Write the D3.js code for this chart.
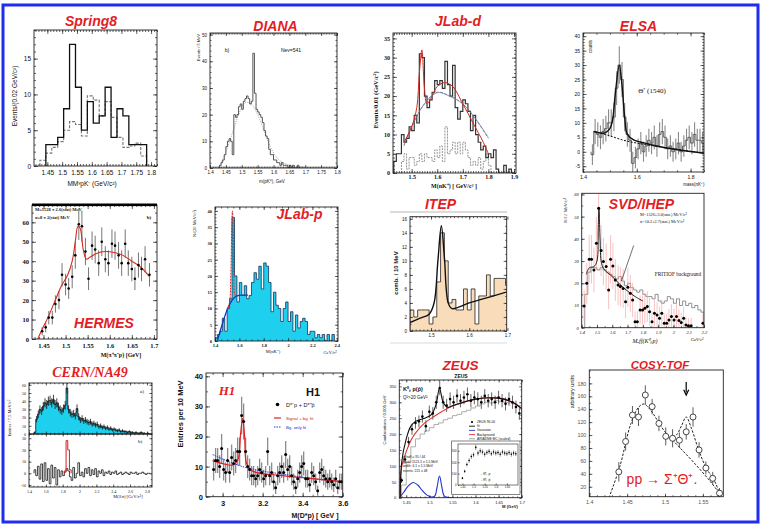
<!DOCTYPE html>
<html>
<head>
<meta charset="utf-8">
<script src="https://cdn.jsdelivr.net/npm/d3@7"></script>
<style>
  body { margin: 0; background: #fff; }
  svg { display: block; }
</style>
</head>
<body>
<svg width="761" height="526"></svg>
<script>
// ---------- data ----------
// Spring8 (bins of 0.02)
const spring8Start = 1.445;
const spring8Solid = [3, 3, 4, 8, 17, 11, 5, 9, 6, 7, 11, 4, 8, 7, 3, 3, 3];
const spring8DashStart = 1.425;
const spring8Dashed = [0.8, 1.8, 2.6, 3.4, 5, 6.2, 5.8, 4.2, 9.8, 9.2, 7, 9, 6.8, 4, 2.6, 2.8, 3.2, 1.4];

// DIANA (bins of 0.005)
const dianaStart = 1.43;
const dianaCounts = [1, 2, 3, 5, 8, 10, 11, 10, 5, 20, 19, 20, 23, 24, 22, 25, 26, 27, 26, 24, 25, 43, 28, 22, 21, 20,
  19, 17, 14, 12, 11, 7, 5, 5, 3, 3, 2, 2, 1, 2, 1, 1, 1, 0, 1, 0, 1, 0, 0, 1, 0];
const dianaBg = [[1.43, 1], [1.45, 6], [1.47, 13], [1.49, 20], [1.51, 24.5], [1.53, 24], [1.55, 20], [1.57, 14],
  [1.59, 8], [1.61, 4], [1.63, 2], [1.66, 0.8], [1.7, 0.3]];

// JLab-d (bins of 0.01)
const jlabdStart = 1.43;
const jlabdCounts = [3, 5, 5, 10, 8, 9, 12, 11, 15, 13, 31, 30, 20, 17, 19, 21, 24, 23, 24, 22, 29, 23, 20, 28, 17, 14,
  16, 19, 18, 16, 11, 15, 10, 8, 6, 7, 4, 5, 4, 6, 1, 0, 0, 2, 0, 1, 0];
const jlabdDashStart = 1.46;
const jlabdDashed = [3, 5, 1, 4, 4, 2, 3, 5, 3, 5, 4, 4, 3, 6, 4, 7, 3, 12, 5, 6, 8, 5, 8, 5, 8, 6, 4, 2, 3, 2, 4, 1, 3, 5, 2, 0];
const jlabdFit = [[1.47, 8], [1.5, 12], [1.52, 17], [1.53, 26], [1.54, 32], [1.55, 22], [1.56, 18], [1.58, 20],
  [1.6, 22.5], [1.63, 23.5], [1.66, 22.5], [1.7, 18], [1.74, 13], [1.78, 8], [1.8, 5]];
const jlabdBg = [[1.47, 7], [1.5, 12], [1.55, 18], [1.6, 21], [1.65, 20], [1.7, 18], [1.75, 14], [1.8, 9]];

// ELSA (bins of 0.01)
const elsaStart = 1.43;
const elsaCounts = [-1, 7, 6, 5, 7, 8, 10, 10, 12, 22, 30, 25, 12, 6, 4, -4, -2, 1, 3, 0, 2, 4, 3, 5, 2, 6, 7, 5, 1, 2,
  0, 1, 3, 0, 2, 4, 5, 3, 6, 4, 4, 3];
const elsaFit = [[1.44, 7], [1.48, 6.5], [1.5, 8], [1.51, 11], [1.52, 20], [1.535, 30], [1.545, 23], [1.555, 12],
  [1.565, 6], [1.59, 4], [1.63, 3], [1.7, 1.5], [1.85, -0.5]];
const elsaBg = [[1.44, 7], [1.5, 5.5], [1.55, 4], [1.6, 3], [1.7, 1.5], [1.85, -0.5]];

// HERMES
const hermesMass = [1.447, 1.455, 1.462, 1.470, 1.477, 1.485, 1.492, 1.500, 1.507, 1.515, 1.522, 1.530, 1.537, 1.545,
  1.552, 1.560, 1.567, 1.575, 1.582, 1.590, 1.597, 1.605, 1.612, 1.620, 1.627, 1.635, 1.642, 1.650, 1.657, 1.665,
  1.672, 1.680, 1.690];
const hermesCounts = [4, 6, 11, 11, 18, 20, 33, 28, 26, 32, 43, 59, 58, 45, 31, 48, 46, 39, 50, 41, 39, 49, 48, 43, 39,
  49, 39, 36, 31, 38, 36, 41, 33];
const hermesFit = [[1.437, 0], [1.447, 5], [1.46, 11], [1.475, 19], [1.49, 27], [1.505, 33], [1.515, 40], [1.522, 50],
  [1.528, 58], [1.533, 57], [1.54, 46], [1.547, 41], [1.555, 42], [1.57, 44], [1.59, 45], [1.61, 44.5], [1.63, 43],
  [1.65, 40], [1.67, 37], [1.69, 32]];

// JLab-p (bins of 0.02)
const jlabpStart = 1.40;
const jlabpCounts = [1, 2, 3, 7, 3, 10, 13, 38, 20, 12, 18, 14, 17, 13, 14, 18, 21, 19, 23, 16, 24, 23, 18, 9, 15, 11,
  10, 6, 10, 12, 6, 9, 3, 8, 4, 6, 7, 6, 2, 3, 3, 1, 2, 1, 2, 0, 2, 0, 2];
const jlabpBg = [[1.42, 0.2], [1.45, 4], [1.48, 7.5], [1.51, 10.5], [1.54, 12.5], [1.57, 13.7], [1.62, 14.1], [1.67, 14.1]];
const jlabpFit = [[1.5, 9.5], [1.52, 12], [1.53, 20], [1.538, 36], [1.543, 40], [1.548, 36], [1.555, 20], [1.565, 14], [1.58, 13.8]];

// ITEP (bins of 0.01)
const itepStart = 1.445;
const itepCounts = [3, 2, 3, 3, 3, 1, 2, 7, 14, 10, 4, 4.5, 3, 3, 6, 3, 6, 1, 5, 5, 8, 5, 7.5, 7.5, 7.5, 6.5];
const itepFit = [[1.445, 1.2], [1.47, 1.8], [1.495, 2.4], [1.508, 4], [1.518, 10], [1.527, 15], [1.535, 10.5],
  [1.545, 4], [1.555, 3.2], [1.6, 4], [1.65, 4.8], [1.7, 5.6]];

// SVD/IHEP
const svdMass = [1.416, 1.433, 1.449, 1.464, 1.48, 1.496, 1.511, 1.527, 1.542, 1.56, 1.576, 1.589, 1.604, 1.62, 1.638,
  1.653, 1.671, 1.687, 1.702, 1.718, 1.733, 1.749, 1.764, 1.782, 1.798, 1.813, 1.829, 1.844, 1.86, 1.876, 1.893, 1.909,
  1.924, 1.94, 1.956, 1.971, 1.987, 2.004, 2.02, 2.036, 2.051, 2.067, 2.082, 2.098, 2.116, 2.193];
const svdCounts = [9.8, 20, 30.8, 30.8, 26, 38, 53.8, 34.7, 29.8, 27.5, 17, 30.8, 27.8, 21.5, 19.2, 18.5, 17.7, 11.7,
  18.2, 15.5, 12.5, 2.7, 2.7, 8, 8, 8.7, 9.5, 7.2, 2.7, 6.5, 5.7, 4.2, 6.5, 2, 2, 3.5, 5, 3.5, 5, 3.2, 2.3, 4.2, 1.2,
  0.9, 0.9, 2];
const svdBgStart = 1.42;
const svdFritiof = [15, 25, 27, 27, 26, 27, 26, 25, 24, 23, 22, 23, 21, 19, 20, 18, 17, 16, 17, 15, 14, 14, 13, 15, 12,
  11, 12, 14, 13, 11, 13, 10, 12, 10, 11, 9, 10, 8, 7];
const svdFit = [[1.43, 24], [1.45, 27], [1.48, 27.5], [1.5, 30], [1.508, 45], [1.513, 54], [1.52, 40], [1.53, 29],
  [1.55, 26], [1.6, 23], [1.65, 19.5], [1.7, 16.5], [1.75, 14], [1.8, 12]];

// CERN/NA49 (bins of 0.02)
const na49Start = 1.46;
const na49Upper = [2, 18, 24, 30, 28, 34, 38, 36, 40, 41, 38, 42, 36, 38, 33, 30, 28, 31, 35, 56, 30, 26, 24, 25, 22,
  31, 21, 17, 19, 16, 17, 15, 14, 15, 12, 13, 11, 12, 9, 10, 8, 9, 7, 8, 6, 7, 5, 6, 5, 4, 5, 3, 4, 3, 3, 2, 3, 2, 2,
  1, 2, 1, 1, 2, 1, 1, 0, 1, 0];
const na49Lower = [3, -2, 6, -5, 8, -7, 9, -6, 4, -9, 7, -4, 5, -10, 3, -3, 2, -2, 1, 4, 2, -3, -6, 5, -4, 0, 9, -2, 1,
  -3, 4, 0, 5, -2, 3, -1, 4, -3, 2, 0, 3, -2, 1, 0, 2, -1, 1, 0, 2, -1, 0, 1, -1, 0, 1, 0, -1, 1, 0, 0, 1, -1, 0, 0,
  1, 0, -1, 0, 0];
const na49SignalStart = 1.82;
const na49Signal = [2, 28, 20, 3];

// H1 (bins of 0.01)
const h1Start = 2.95;
const h1Counts = [9, 12, 12, 10, 16, 9, 8, 12, 8, 13, 11, 12, 15, 15, 27, 25, 15, 10, 9, 7, 7, 6, 7, 9, 8, 6, 7, 15, 7,
  8, 5, 3, 7, 8, 10, 8, 14, 9, 10, 7, 5, 3, 6, 8, 10, 11, 6, 6, 4, 8, 7, 5, 2, 8, 9, 7, 6, 5, 6, 5, 4, 6, 3, 5, 5];
const h1Fit = [[2.95, 12], [3.0, 11], [3.05, 10.5], [3.075, 12], [3.09, 21], [3.1, 26], [3.11, 20], [3.12, 11],
  [3.15, 8.5], [3.3, 7], [3.45, 6], [3.6, 5]];
const h1Bg = [[2.95, 14], [3.0, 12.5], [3.1, 10], [3.2, 8.5], [3.3, 7.5], [3.45, 6], [3.6, 5]];

// ZEUS
const zeusStart = 1.44;
const zeusStep = 0.0075;
const zeusCounts = [55, 120, 175, 215, 235, 240, 255, 225, 270, 265, 300, 345, 300, 290, 310, 300, 320, 305, 315, 325,
  305, 315, 310, 300, 320, 305, 310, 300, 315, 305, 295, 310, 300, 285, 265];
const zeusMCStart = 1.44;
const zeusMC = [40, 110, 160, 185, 200, 210, 220, 230, 235, 245, 250, 258, 262, 270, 275, 282, 288, 295, 300, 298, 305,
  302, 300, 298, 295, 290];
const zeusBg = [[1.437, 0], [1.44, 95], [1.45, 145], [1.46, 180], [1.47, 203], [1.49, 235], [1.51, 255], [1.55, 288],
  [1.6, 310], [1.65, 313], [1.68, 300], [1.7, 280]];
const zeusFit = [[1.437, 0], [1.44, 110], [1.45, 185], [1.46, 225], [1.47, 240], [1.49, 250], [1.505, 262],
  [1.515, 295], [1.522, 345], [1.53, 300], [1.54, 284], [1.55, 289], [1.6, 310], [1.65, 313], [1.68, 300], [1.7, 280]];
const zeusGauss = [[1.437, 3], [1.445, 18], [1.455, 38], [1.465, 48], [1.475, 40], [1.485, 22], [1.495, 8],
  [1.505, 2], [1.512, 6], [1.517, 35], [1.522, 68], [1.527, 35], [1.532, 6], [1.54, 1], [1.55, 0]];
const zeusInsetStart = 1.445;
const zeusInset = [60, 120, 180, 215, 250, 265, 330, 280, 300, 290, 270, 285, 295, 275, 290, 280, 285, 270, 290, 280,
  275, 285, 270, 280, 275];

// COSY-TOF
const cosyMass = [1.439, 1.448, 1.457, 1.465, 1.474, 1.483, 1.492, 1.501, 1.510, 1.519, 1.528, 1.537, 1.545, 1.554, 1.563, 1.572];
const cosyCounts = [43, 90, 131, 128, 162, 144, 118, 98, 95, 92, 105, 128, 77, 49, 33, 10];
const cosyErr = [15, 14, 14, 14, 15, 12, 12, 14, 14, 12, 12, 15, 12, 10, 10, 8];
const cosyBg = [[1.426, 3], [1.44, 50], [1.455, 118], [1.465, 143], [1.472, 148], [1.48, 140], [1.5, 105], [1.52, 80],
  [1.54, 55], [1.56, 28], [1.572, 10]];
const cosySig = [[1.505, 95], [1.515, 100], [1.522, 115], [1.528, 128], [1.535, 110], [1.545, 75], [1.555, 48],
  [1.565, 30], [1.572, 10]];
const cosyArrowMass = 1.528;

// ---------- drawing ----------
const svg = d3.select("svg");
const sans = "Liberation Sans, Arial, sans-serif";
const serif = "Liberation Serif, Times New Roman, serif";
const red = "#e31d25";

svg.append("rect").attr("width", 761).attr("height", 526).attr("fill", "#fff");
svg.append("rect").attr("x", 3).attr("y", 5).attr("width", 755).attr("height", 517)
  .attr("fill", "#fff").attr("stroke", "#1e2df0").attr("stroke-width", 3);

let clipN = 0;
function panel(o) {
  const [L, T, R, B] = o.box;
  const id = "clip" + clipN++;
  svg.append("clipPath").attr("id", id).append("rect")
    .attr("x", L).attr("y", T).attr("width", R - L).attr("height", B - T);
  const g = svg.append("g");
  const x = d3.scaleLinear().domain(o.xd).range([L, R]);
  const y = d3.scaleLinear().domain(o.yd).range([B, T]);
  const plot = g.append("g").attr("clip-path", `url(#${id})`);
  const tk = o.tk ?? 4;
  const style = (a) => a.attr("font-family", o.font || sans).attr("font-size", o.fs || 6)
    .attr("font-weight", o.fw || "normal").attr("font-style", o.fi ? "italic" : "normal")
    .call((s) => s.select(".domain").remove())
    .call((s) => s.selectAll("line").attr("stroke", "#222").attr("stroke-width", 0.7))
    .call((s) => s.selectAll("text").attr("fill", o.tc || "#111"));
  const ax = (axis, tx, ty) => g.append("g").attr("transform", `translate(${tx},${ty})`).call(axis).call(style);
  if (o.xm) ax(d3.axisBottom(x).tickValues(x.ticks(o.xm)).tickSize(-tk / 2).tickFormat(""), 0, B);
  if (o.ym) ax(d3.axisLeft(y).tickValues(y.ticks(o.ym)).tickSize(-tk / 2).tickFormat(""), L, 0);
  if (o.xt) ax(d3.axisBottom(x).tickValues(o.xt).tickSize(-tk).tickPadding(o.xp ?? 3)
    .tickFormat(o.noXLabels ? "" : (d) => d), 0, B);
  if (o.yt) ax(d3.axisLeft(y).tickValues(o.yt).tickSize(-tk).tickPadding(o.yp ?? 3).tickFormat((d) => d), L, 0);
  if (o.mirror) {
    if (o.xt) ax(d3.axisTop(x).tickValues(o.xt).tickSize(-tk).tickFormat(""), 0, T);
    if (o.yt) ax(d3.axisRight(y).tickValues(o.yt).tickSize(-tk).tickFormat(""), R, 0);
    if (o.xm) ax(d3.axisTop(x).tickValues(x.ticks(o.xm)).tickSize(-tk / 2).tickFormat(""), 0, T);
    if (o.ym) ax(d3.axisRight(y).tickValues(y.ticks(o.ym)).tickSize(-tk / 2).tickFormat(""), R, 0);
  }
  g.append("rect").attr("x", L).attr("y", T).attr("width", R - L).attr("height", B - T)
    .attr("fill", "none").attr("stroke", "#222").attr("stroke-width", o.sw || 0.9);
  return { g, plot, x, y };
}

function hist(p, x0, w, vals, o = {}) {
  const base = o.base ?? 0;
  const end = x0 + vals.length * w;
  const pts = [[x0, base], ...vals.map((v, i) => [x0 + i * w, v]), [end, vals[vals.length - 1]], [end, base]];
  if (o.fill) {
    p.plot.append("path")
      .attr("d", d3.area().curve(d3.curveStepAfter).x((d) => p.x(d[0])).y0(p.y(base)).y1((d) => p.y(d[1]))(pts))
      .attr("fill", o.fill);
  }
  p.plot.append("path")
    .attr("d", d3.line().curve(d3.curveStepAfter).x((d) => p.x(d[0])).y((d) => p.y(d[1]))(pts))
    .attr("fill", "none").attr("stroke", o.stroke || "#000").attr("stroke-width", o.sw || 1)
    .attr("stroke-dasharray", o.dash || null);
}

function bars(p, xs, ys, err, o = {}) {
  p.plot.append("g").selectAll("line").data(xs).join("line")
    .attr("x1", (d) => p.x(d)).attr("x2", (d) => p.x(d))
    .attr("y1", (d, i) => p.y(ys[i] - (Array.isArray(err) ? err[i] : err(ys[i]))))
    .attr("y2", (d, i) => p.y(ys[i] + (Array.isArray(err) ? err[i] : err(ys[i]))))
    .attr("stroke", o.color || "#000").attr("stroke-width", o.w || 0.8);
}

function dots(p, xs, ys, o = {}) {
  p.plot.append("g").selectAll("circle").data(xs).join("circle")
    .attr("cx", (d) => p.x(d)).attr("cy", (d, i) => p.y(ys[i])).attr("r", o.r || 1.6)
    .attr("fill", o.fill || "#000").attr("stroke", o.stroke || "none").attr("stroke-width", o.sw || 0.8);
}

function curve(p, pts, o = {}) {
  p.plot.append("path")
    .attr("d", d3.line().curve(d3.curveCatmullRom).x((d) => p.x(d[0])).y((d) => p.y(d[1]))(pts))
    .attr("fill", "none").attr("stroke", o.color || "#000").attr("stroke-width", o.w || 1)
    .attr("stroke-dasharray", o.dash || null);
}

function label(x, y, s, o = {}) {
  const t = svg.append("text").attr("x", x).attr("y", y)
    .attr("font-family", o.font || sans).attr("font-size", o.size || 6)
    .attr("font-weight", o.weight || "normal").attr("font-style", o.italic ? "italic" : "normal")
    .attr("fill", o.color || "#111").attr("text-anchor", o.anchor || "middle");
  if (o.rotate) t.attr("transform", `rotate(-90,${x},${y})`);
  t.text(s);
  return t;
}
const title = (x, y, s, size = 14, font = sans) =>
  label(x, y, s, { font, size, weight: "bold", italic: true, color: red });
const centers = (x0, w, n) => d3.range(n).map((i) => x0 + (i + 0.5) * w);

// Spring8
{
  const p = panel({ box: [34, 30, 157, 166], xd: [1.405, 1.82], yd: [0, 19], xt: [1.45, 1.5, 1.55, 1.6, 1.65, 1.7, 1.75, 1.8],
    yt: [0, 5, 10, 15], xm: 40, ym: 19, fs: 6.5, mirror: true, xp: 4 });
  hist(p, spring8DashStart, 0.02, spring8Dashed, { stroke: "#777", sw: 1.1, dash: "3,1.5" });
  hist(p, spring8Start, 0.02, spring8Solid, { stroke: "#111", sw: 1.3 });
  title(91, 26, "Spring8");
  label(17, 96, "Events/(0.02 GeV/c²)", { size: 6.5, rotate: true });
  label(92, 186, "MMᵞpK⁻ (GeV/c²)", { size: 6.5 });
}

// DIANA
{
  const p = panel({ box: [210, 33, 337, 168], xd: [1.4, 1.8], yd: [0, 50.6],
    xt: [1.4, 1.45, 1.5, 1.55, 1.6, 1.65, 1.7, 1.75, 1.8], yt: [0, 10, 20, 30, 40, 50], xm: 80, ym: 25,
    fs: 4.5, mirror: true, tk: 3 });
  curve(p, dianaBg, { color: "#999", w: 0.9, dash: "1,1.2" });
  hist(p, dianaStart, 0.005, dianaCounts, { stroke: "#444", sw: 0.9 });
  title(275.5, 30.5, "DIANA");
  label(227, 52, "b)", { size: 5 });
  label(291, 52, "Nev=541", { size: 5 });
  label(200, 34, "Events / 5 MeV", { size: 4, rotate: true, anchor: "end" });
  label(272, 183, "m(pK⁰), GeV", { size: 4.5 });
}

// JLab-d
{
  const p = panel({ box: [393, 33, 516, 173], xd: [1.427, 1.908], yd: [0, 36.4], xt: [1.5, 1.6, 1.7, 1.8, 1.9],
    yt: [0, 5, 10, 15, 20, 25, 30, 35], xm: 48, ym: 36, font: serif, fw: "bold", fs: 6, mirror: true, xp: 1.5 });
  hist(p, jlabdDashStart, 0.01, jlabdDashed, { stroke: "#888", sw: 0.9, dash: "2,1" });
  hist(p, jlabdStart, 0.01, jlabdCounts, { stroke: "#333", sw: 1.2 });
  curve(p, jlabdBg, { color: "#5566cc", w: 0.8, dash: "3,1.5" });
  curve(p, jlabdBg.map((d) => [d[0], d[1] * 0.97 + 0.5]), { color: "#777", w: 0.7 });
  curve(p, jlabdFit, { color: "#d42a1e", w: 1 });
  title(458, 26, "JLab-d");
  label(378, 100, "Events/0.01 (GeV/c²)", { font: serif, weight: "bold", size: 6.5, rotate: true });
  label(454, 187.5, "M(nK⁺) [ GeV/c² ]", { font: serif, weight: "bold", size: 6 });
}

// ELSA
{
  const p = panel({ box: [583, 33, 704, 172], xd: [1.4, 1.85], yd: [-7, 41.1], xt: [1.4, 1.6, 1.8],
    yt: [-5, 0, 5, 10, 15, 20, 25, 30, 35, 40], xm: 9, ym: 48, fs: 5, mirror: true, tk: 3.5 });
  bars(p, centers(elsaStart, 0.01, elsaCounts.length), elsaCounts, (v) => Math.sqrt(Math.abs(v) + 12),
    { color: "#8a8a8a", w: 1.1 });
  hist(p, elsaStart, 0.01, elsaCounts, { stroke: "#555", sw: 0.9 });
  curve(p, elsaBg, { color: "#111", w: 1, dash: "2,1.5" });
  curve(p, elsaFit, { color: "#111", w: 1.4 });
  title(638.5, 30.5, "ELSA");
  label(652, 93, "Θ⁺ (1540)", { font: serif, size: 7 });
  label(592, 40, "counts", { size: 4.5, rotate: true, anchor: "end" });
  label(694, 186, "mass(nK⁺)", { size: 4.5 });
}

// HERMES
{
  const p = panel({ box: [32, 205, 157, 339], xd: [1.424, 1.707], yd: [0, 68.9], xt: [1.45, 1.5, 1.55, 1.6, 1.65, 1.7],
    yt: [0, 10, 20, 30, 40, 50, 60], xm: 28, ym: 14, font: serif, fw: "bold", fs: 6.5, mirror: true, xp: 4 });
  p.g.append("rect").attr("x", 32).attr("y", 203.5).attr("width", 125).attr("height", 2.6).attr("fill", "#000");
  bars(p, hermesMass, hermesCounts, (v) => Math.sqrt(v) * 1.05, { color: "#666", w: 0.9 });
  curve(p, hermesFit, { color: "#d42a1e", w: 1.1 });
  dots(p, hermesMass, hermesCounts, { r: 1.3 });
  title(104, 328, "HERMES");
  label(35, 211, "M=1528 ± 2.6(stat) MeV", { font: serif, weight: "bold", size: 4.5, anchor: "start" });
  label(35, 219, "σ=8 ± 2(stat) MeV", { font: serif, weight: "bold", size: 4.5, anchor: "start" });
  label(149, 219, "b)", { font: serif, weight: "bold", size: 5 });
  label(121, 357, "M(π⁺π⁻p) [GeV]", { font: serif, weight: "bold", size: 6 });
}

// JLab-p
{
  const p = panel({ box: [215, 207, 338, 341], xd: [1.4, 2.41], yd: [0, 41.2], xt: [1.4, 1.6, 1.8, 2, 2.2, 2.4],
    yt: [0, 5, 10, 15, 20, 25, 30, 35, 40], xm: 20, ym: 41, font: serif, fw: "bold", fs: 4.5, mirror: true, tk: 3 });
  hist(p, jlabpStart, 0.02, jlabpCounts, { fill: "#1fd0ee", stroke: "#1b2f55", sw: 0.8 });
  curve(p, jlabpBg, { color: "#1533c8", w: 1.3 });
  curve(p, jlabpFit, { color: "#e02020", w: 1, dash: "2,1" });
  title(299.5, 219, "JLab-p");
  label(196, 210, "N/(20 MeV/c²)", { font: serif, size: 4.5, rotate: true, anchor: "end" });
  label(273, 353, "M(nK⁺)", { font: serif, size: 4.5 });
  label(330, 354, "GeV/c²", { font: serif, size: 4.5 });
}

// ITEP
{
  svg.append("line").attr("x1", 390).attr("x2", 507).attr("y1", 212).attr("y2", 212).attr("stroke", "#cfcfcf").attr("stroke-width", 1.4);
  svg.append("line").attr("x1", 390).attr("x2", 507).attr("y1", 343).attr("y2", 343).attr("stroke", "#dcdcdc").attr("stroke-width", 1.2);
  const p = panel({ box: [410, 216.7, 506.7, 331], xd: [1.445, 1.698], yd: [0, 16.3], xt: [1.5, 1.6, 1.7],
    yt: [0, 2, 4, 6, 8, 10, 12, 14, 16], xm: 25, ym: 16, fs: 4.5, mirror: true, tk: 3 });
  hist(p, itepStart, 0.01, itepCounts, { fill: "#f9dcba", stroke: "#222", sw: 0.8 });
  curve(p, itepFit, { color: "#111", w: 1.4 });
  title(440.5, 209, "ITEP");
  label(398, 273, "comb. / 10 MeV", { weight: "bold", size: 6, rotate: true });
}

// SVD/IHEP
{
  const p = panel({ box: [581.7, 193.3, 704, 327.7], xd: [1.4, 2.2], yd: [0, 60.5],
    xt: [1.4, 1.5, 1.6, 1.7, 1.8, 1.9, 2, 2.1, 2.2], yt: [0, 10, 20, 30, 40, 50, 60], xm: 16, ym: 12,
    font: serif, fi: true, fs: 4.5, tk: 3 });
  hist(p, svdBgStart, 0.02, svdFritiof, { stroke: "#777", sw: 0.8 });
  bars(p, svdMass, svdCounts, (v) => Math.sqrt(v) * 1.6 + 2, { color: "#f29a9a", w: 0.6 });
  curve(p, svdFit, { color: "#222", w: 1 });
  dots(p, svdMass, svdCounts, { r: 1.5 });
  svg.append("line").attr("x1", p.x(1.74)).attr("y1", p.y(37)).attr("x2", p.x(1.66)).attr("y2", p.y(21))
    .attr("stroke", "#333").attr("stroke-width", 0.7);
  title(641.5, 209, "SVD/IHEP");
  label(640, 216, "M=1526±3.0(stat.) MeV/c²", { font: serif, size: 4.3, anchor: "start" });
  label(640, 223, "σ=10.2±2.7(stat.) MeV/c²", { font: serif, size: 4.3, anchor: "start" });
  label(678, 276, "FRITIOF background", { font: serif, size: 5.3 });
  label(567, 198, "N/11 MeV/c²", { font: serif, italic: true, size: 5, rotate: true, anchor: "end" });
  label(645, 343, "Mₑff(K⁰ₛp)", { font: serif, italic: true, size: 6 });
  label(697, 340.5, "GeV/c²", { font: serif, italic: true, size: 4.5 });
}

// CERN/NA49
{
  const up = panel({ box: [29, 383, 152, 434], xd: [1.4, 2.86], yd: [0, 62.2], xt: [1.4, 1.6, 1.8, 2, 2.2, 2.4, 2.6, 2.8],
    yt: [0, 10, 20, 30, 40, 50, 60], noXLabels: true, xm: 29, ym: 13, font: serif, fs: 4, tk: 2.5, mirror: true });
  hist(up, na49Start, 0.02, na49Upper, { fill: "#1fd0ee", stroke: "#111", sw: 0.8 });
  bars(up, centers(na49Start, 0.02, na49Upper.length), na49Upper, (v) => Math.sqrt(v) * 0.9, { color: "#111", w: 0.8 });
  const lo = panel({ box: [29, 434, 152, 487], xd: [1.4, 2.86], yd: [-11.7, 33.6], xt: [1.4, 1.6, 1.8, 2, 2.2, 2.4, 2.6, 2.8],
    yt: [-10, 0, 10, 20, 30], xm: 29, ym: 9, font: serif, fs: 4, tk: 2.5, mirror: true });
  hist(lo, na49Start, 0.02, na49Lower, { stroke: "#111", sw: 0.8 });
  hist(lo, na49SignalStart, 0.02, na49Signal, { stroke: "#d42020", sw: 1 });
  title(90, 377, "CERN/NA49", 14, serif);
  label(142, 393, "a)", { font: serif, size: 5 });
  label(140, 443, "b)", { font: serif, size: 5 });
  label(11, 418, "Entries / 7.5 MeV/c²", { font: serif, size: 4.5, rotate: true });
  label(128, 498, "M(Ξπ) [GeV/c²]", { font: serif, size: 4.5 });
}

// H1
{
  const p = panel({ box: [206, 373, 342.7, 496.7], xd: [2.917, 3.6], yd: [0, 41.1], xt: [3, 3.2, 3.4, 3.6],
    yt: [0, 10, 20, 30, 40], xm: 14, ym: 8, fw: "bold", fs: 7.5, mirror: true, xp: 4 });
  const xs = centers(h1Start, 0.01, h1Counts.length);
  bars(p, xs, h1Counts, (v) => Math.sqrt(v) * 1.2, { color: "#8c8c8c", w: 1.3 });
  curve(p, h1Bg, { color: "#2a3de0", w: 1, dash: "1.5,1" });
  curve(p, h1Fit, { color: "#e02020", w: 1.2 });
  dots(p, xs, h1Counts, { r: 1.5 });
  title(227, 395, "H1", 13, serif);
  label(313, 396, "H1", { weight: "bold", size: 11 });
  svg.append("circle").attr("cx", 277.5).attr("cy", 404.5).attr("r", 1.8).attr("fill", "#000");
  label(286, 407, "D*⁻p + D*⁺p̄", { size: 5.5, anchor: "start" });
  svg.append("line").attr("x1", 274).attr("x2", 281).attr("y1", 418).attr("y2", 418).attr("stroke", "#e02020").attr("stroke-width", 1.2);
  label(286, 420, "Signal + bg. fit", { size: 4.3, anchor: "start", color: "#d02020" });
  svg.append("line").attr("x1", 274).attr("x2", 281).attr("y1", 427).attr("y2", 427).attr("stroke", "#2a3de0").attr("stroke-width", 1).attr("stroke-dasharray", "1.5,1");
  label(286, 429, "Bg. only fit", { size: 4.3, anchor: "start", color: "#2030d0" });
  label(183, 414, "Entries per 10 MeV", { weight: "bold", size: 7.5, rotate: true });
  label(315, 518, "M(D*p) [ GeV ]", { weight: "bold", size: 7 });
}

// ZEUS
{
  const p = panel({ box: [399.3, 380, 521.7, 497.7], xd: [1.435, 1.70], yd: [0, 370],
    xt: [1.45, 1.5, 1.55, 1.6, 1.65, 1.7], yt: [0, 50, 100, 150, 200, 250, 300, 350], xm: 26, ym: 14,
    fs: 4, mirror: true, tk: 2.5 });
  hist(p, zeusMCStart, 0.01, zeusMC, { stroke: "#999", sw: 0.8 });
  const xs = d3.range(zeusCounts.length).map((i) => zeusStart + i * zeusStep);
  bars(p, xs, zeusCounts, (v) => Math.sqrt(v) * 1.2, { color: "#222", w: 0.7 });
  curve(p, zeusGauss, { color: "#2233cc", w: 1.1 });
  curve(p, zeusBg, { color: "#e03030", w: 1.1 });
  curve(p, zeusFit, { color: "#111", w: 1.1 });
  dots(p, xs, zeusCounts, { r: 1.3 });
  title(460.5, 370, "ZEUS", 13.5);
  label(461, 378, "ZEUS", { weight: "bold", size: 5 });
  label(403, 391, "K⁰ₛ p(p̄)", { size: 5.5, anchor: "start", weight: "bold" });
  label(403, 399, "Q²>20 GeV²", { size: 4.5, anchor: "start" });
  const leg = [["ZEUS 96-00", "dot"], ["fit", "#111"], ["Gaussian", "#2233cc"], ["Background", "#e03030"], ["ARIADNE MC (scaled)", "#999"]];
  leg.forEach(([s, c], i) => {
    const yy = 423 + i * 4.2;
    if (c === "dot") svg.append("circle").attr("cx", 472).attr("cy", yy - 1).attr("r", 1.1).attr("fill", "#000");
    else svg.append("line").attr("x1", 469).attr("x2", 475).attr("y1", yy - 1).attr("y2", yy - 1).attr("stroke", c).attr("stroke-width", 0.9);
    label(477, yy, s, { size: 3.3, anchor: "start" });
  });
  ["χ²/ndf = 35 / 44", "peak: 1521.5 ± 1.5 MeV", "width: 6.1 ± 1.5 MeV", "events: 221 ± 48"].forEach((s, i) =>
    label(403, 458 + i * 4.5, s, { size: 3.3, anchor: "start" }));
  svg.append("rect").attr("x", 451.7).attr("y", 441).attr("width", 68.3).attr("height", 53.3).attr("fill", "#fff").attr("stroke", "#333").attr("stroke-width", 0.6);
  const ins = panel({ box: [458, 444, 518, 485], xd: [1.43, 1.7], yd: [0, 360], xt: [1.45, 1.5, 1.55, 1.6, 1.65],
    yt: [0, 100, 200, 300], fs: 2.8, tk: 1.5, xp: 1.5, yp: 1.5, sw: 0.6 });
  const ixs = centers(zeusInsetStart, 0.01, zeusInset.length);
  bars(ins, ixs, zeusInset, (v) => Math.sqrt(v) * 1.3, { color: "#222", w: 0.5 });
  dots(ins, ixs, zeusInset, { r: 0.8 });
  label(481, 475, "- K⁰ₛ p", { size: 3.5, anchor: "start" });
  label(481, 481, "- K⁰ₛ p̄", { size: 3.5, anchor: "start" });
  label(386, 420, "Combinations / 0.005 GeV", { size: 4.2, rotate: true });
  label(510, 508, "M (GeV)", { size: 4.2, weight: "bold" });
}

// COSY-TOF
{
  const p = panel({ box: [589.3, 370, 723.3, 496.7], xd: [1.4, 1.577], yd: [4.6, 200.7], xt: [1.4, 1.45, 1.5, 1.55],
    yt: [20, 40, 60, 80, 100, 120, 140, 160, 180], xm: 18, ym: 19, fs: 5.3, tc: "#555", tk: 3, xp: 4 });
  curve(p, cosyBg, { color: "#222", w: 1, dash: "2.5,1.5" });
  curve(p, cosySig, { color: "#222", w: 1, dash: "2.5,1.5" });
  bars(p, cosyMass, cosyCounts, cosyErr, { color: "#333", w: 0.8 });
  dots(p, cosyMass, cosyCounts, { r: 3, fill: "#fff", stroke: "#333", sw: 0.9 });
  const ax = p.x(cosyArrowMass);
  svg.append("line").attr("x1", ax).attr("x2", ax).attr("y1", p.y(182)).attr("y2", p.y(166)).attr("stroke", "#000").attr("stroke-width", 1.2);
  svg.append("path").attr("d", `M${ax - 2.5},${p.y(170)}L${ax},${p.y(162)}L${ax + 2.5},${p.y(170)}`).attr("fill", "none").attr("stroke", "#000").attr("stroke-width", 1.2);
  title(660, 369, "COSY-TOF", 11.5);
  label(662, 484, "pp → Σ⁺Θ⁺.", { size: 14, color: red });
  label(574, 375, "arbitrary units", { size: 5.5, rotate: true, anchor: "end" });
}
</script>
</body>
</html>
